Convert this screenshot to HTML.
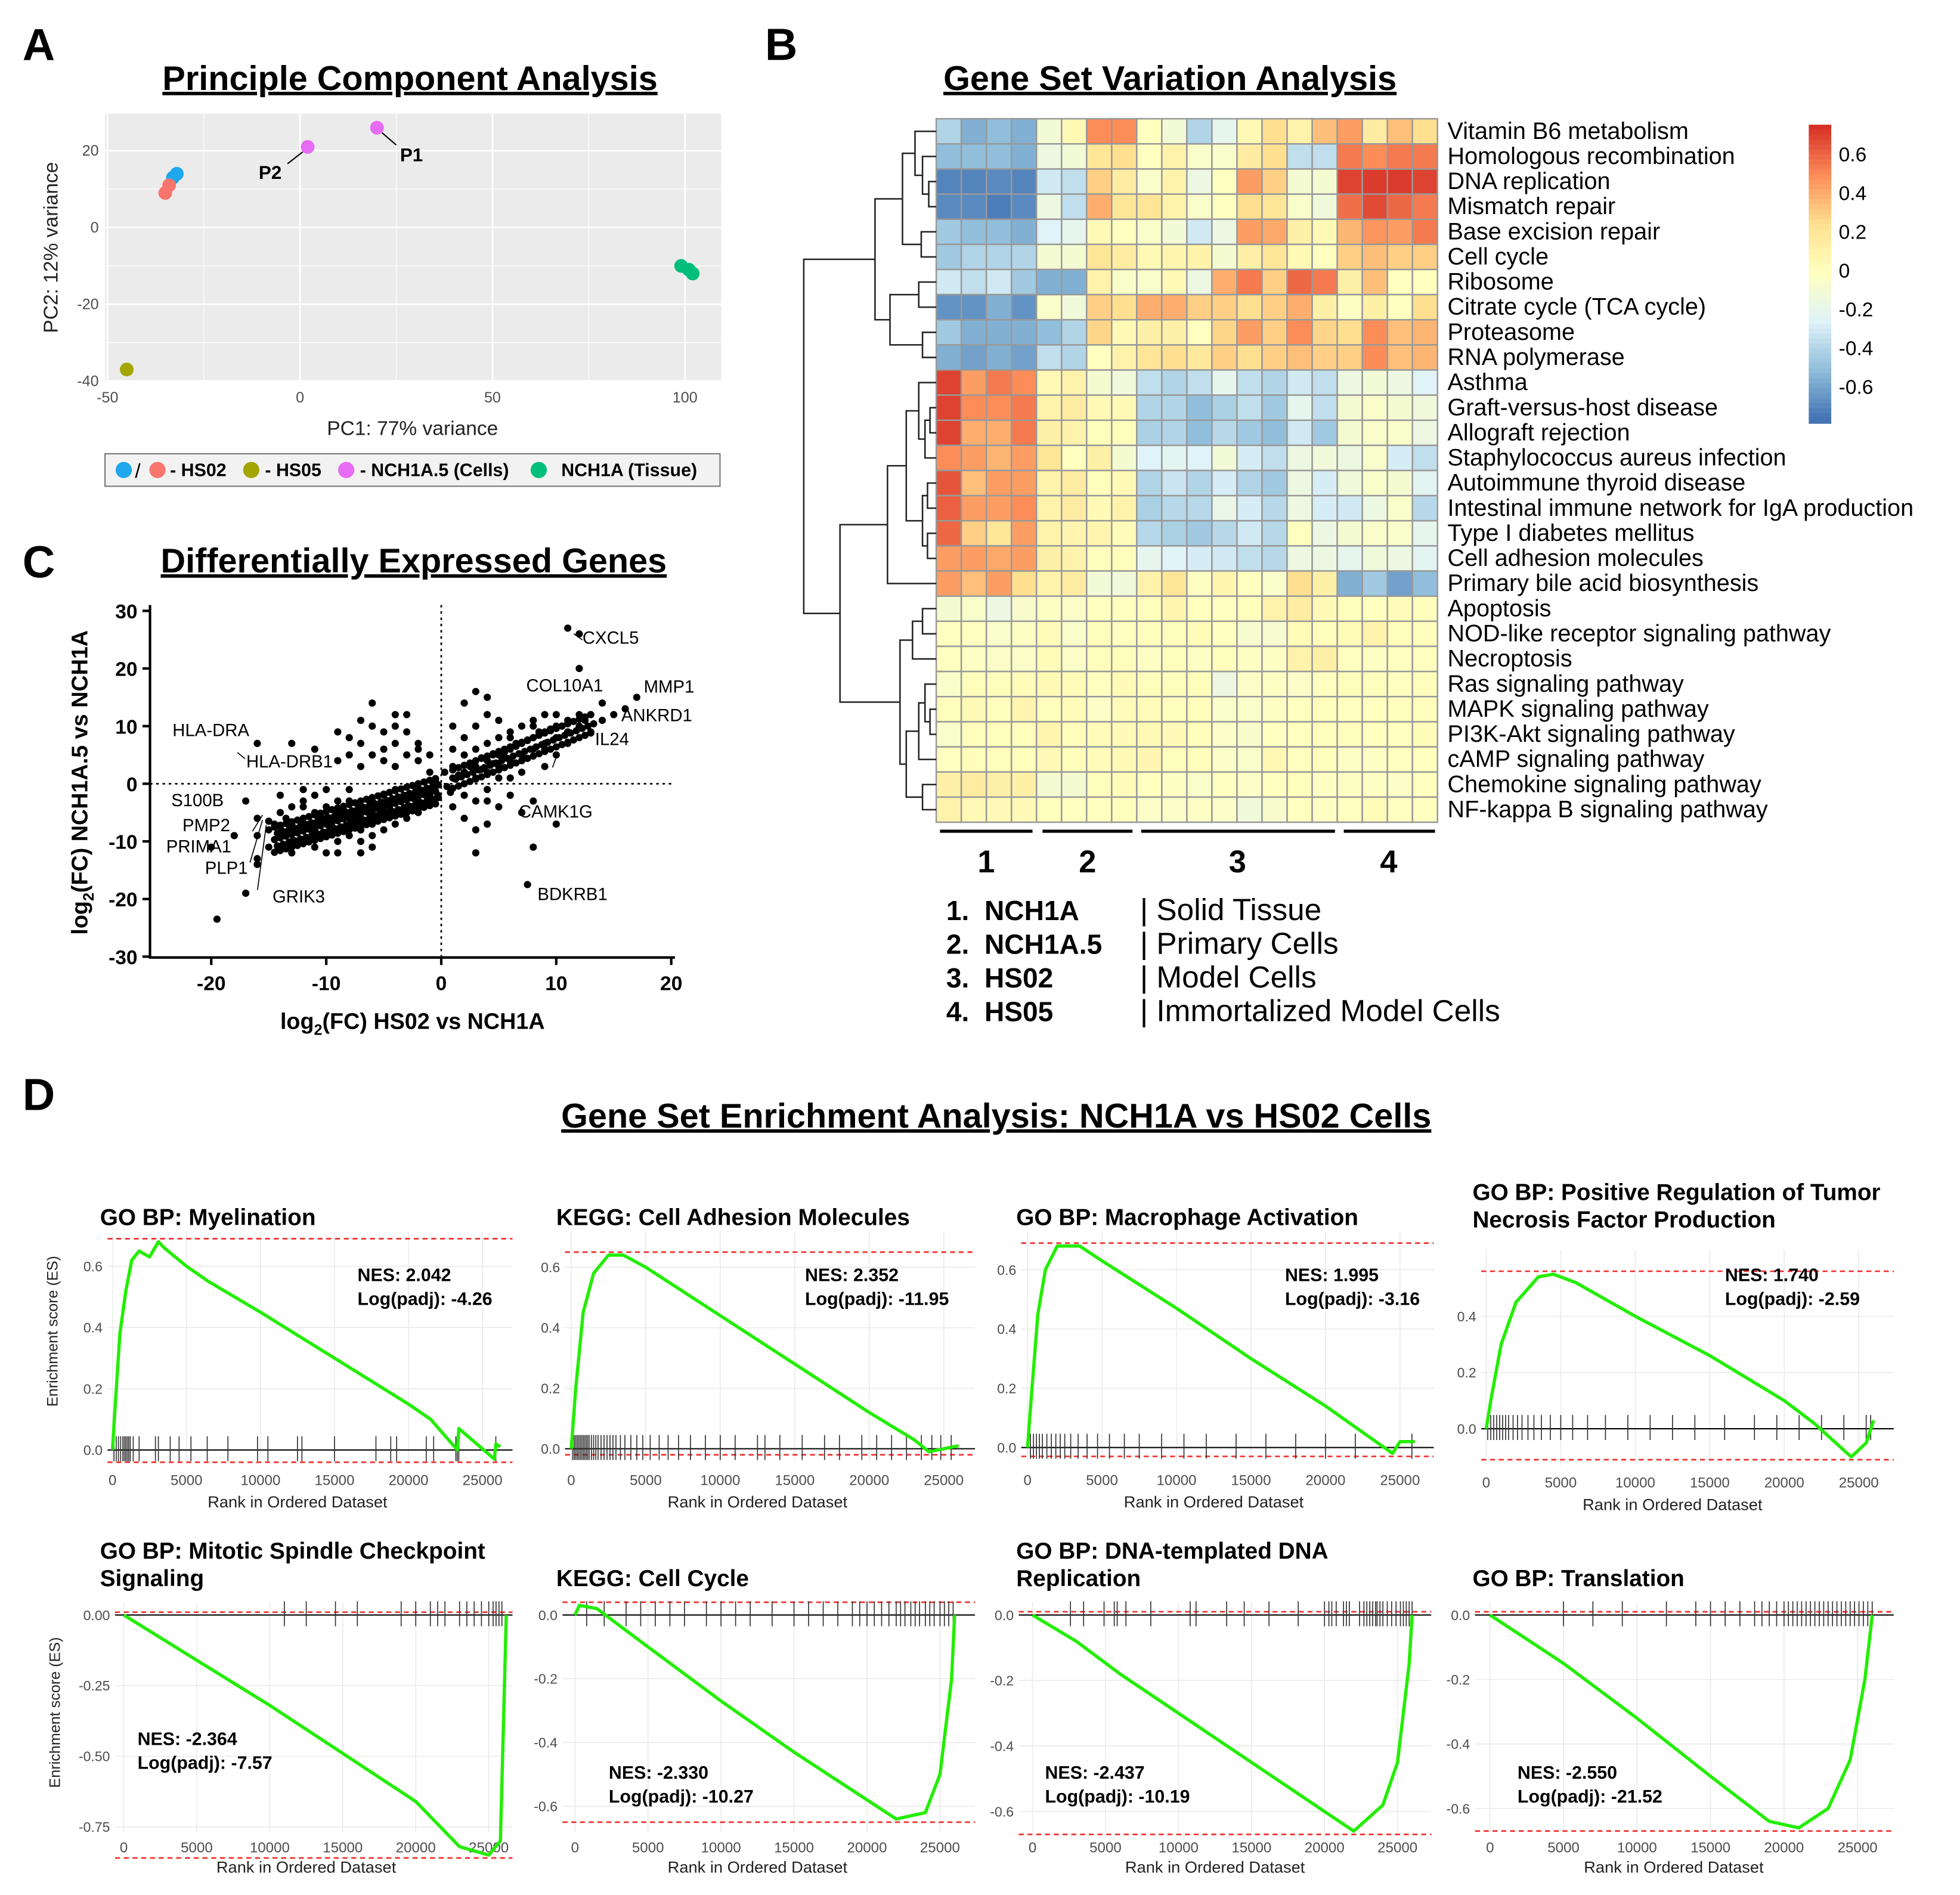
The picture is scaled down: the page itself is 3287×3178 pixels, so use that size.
<!DOCTYPE html>
<html><head><meta charset="utf-8">
<style>
html,body{margin:0;padding:0;background:#fff;}
svg{display:block;font-family:"Liberation Sans",Arial,sans-serif;}
.b{font-weight:bold;}
</style></head>
<body>
<svg id="fig" xmlns="http://www.w3.org/2000/svg" width="3287" height="3178" viewBox="0 0 1568 1516">
<rect x="0" y="0" width="1568" height="1516" fill="#fff"/>
<text x="18" y="48" font-size="36" class="b">A</text>
<text x="612" y="48" font-size="36" class="b">B</text>
<text x="18" y="462" font-size="36" class="b">C</text>
<text x="18" y="888" font-size="36" class="b">D</text>
<text x="328" y="72" font-size="27.5" class="b" text-anchor="middle" text-decoration="underline">Principle Component Analysis</text>
<text x="936" y="72" font-size="27.5" class="b" text-anchor="middle" text-decoration="underline">Gene Set Variation Analysis</text>
<text x="331" y="458" font-size="27.5" class="b" text-anchor="middle" text-decoration="underline">Differentially Expressed Genes</text>
<text x="797" y="902" font-size="27.5" class="b" text-anchor="middle" text-decoration="underline">Gene Set Enrichment Analysis: NCH1A vs HS02 Cells</text>

<g id="pca"></g>
<g id="heat"></g>
<g id="deg"></g>
<g id="gsea"></g>

<text x="330" y="348" font-size="16" text-anchor="middle" fill="#222">PC1: 77% variance</text>
<text transform="translate(46,198) rotate(-90)" font-size="16" text-anchor="middle" fill="#222">PC2: 12% variance</text>
<g>
<rect x="84" y="363" width="492" height="26" fill="#f2f2f2" stroke="#777" stroke-width="1"/>
<circle cx="99" cy="376" r="6.5" fill="#1ea7ec"/>
<text x="108" y="382" font-size="16">/</text>
<circle cx="126" cy="376" r="6.5" fill="#f8766d"/>
<text x="136" y="381" font-size="14.5" class="b">- HS02</text>
<circle cx="201" cy="376" r="6.5" fill="#a3a500"/>
<text x="212" y="381" font-size="14.5" class="b">- HS05</text>
<circle cx="277" cy="376" r="6.5" fill="#e76bf3"/>
<text x="288" y="381" font-size="14.5" class="b">- NCH1A.5 (Cells)</text>
<circle cx="431" cy="376" r="6.5" fill="#00bf7d"/>
<text x="449" y="381" font-size="14.5" class="b">NCH1A (Tissue)</text>
</g>

<g>
<line x1="752" y1="665" x2="826" y2="665" stroke="#000" stroke-width="2.5"/>
<line x1="834" y1="665" x2="906" y2="665" stroke="#000" stroke-width="2.5"/>
<line x1="913" y1="665" x2="1068" y2="665" stroke="#000" stroke-width="2.5"/>
<line x1="1075" y1="665" x2="1148" y2="665" stroke="#000" stroke-width="2.5"/>
<text x="789" y="698" font-size="25" class="b" text-anchor="middle">1</text>
<text x="870" y="698" font-size="25" class="b" text-anchor="middle">2</text>
<text x="990" y="698" font-size="25" class="b" text-anchor="middle">3</text>
<text x="1111" y="698" font-size="25" class="b" text-anchor="middle">4</text>
</g>
<g font-size="22">
<text x="757" y="736" class="b">1.&#160;&#160;NCH1A</text>
<text x="912" y="736" font-size="24.5">| Solid Tissue</text>
<text x="757" y="763" class="b">2.&#160;&#160;NCH1A.5</text>
<text x="912" y="763" font-size="24.5">| Primary Cells</text>
<text x="757" y="790" class="b">3.&#160;&#160;HS02</text>
<text x="912" y="790" font-size="24.5">| Model Cells</text>
<text x="757" y="817" class="b">4.&#160;&#160;HS05</text>
<text x="912" y="817" font-size="24.5">| Immortalized Model Cells</text>
</g>

<text x="330" y="823" font-size="18" class="b" text-anchor="middle">log<tspan font-size="12" dy="5">2</tspan><tspan dy="-5">(FC) HS02 vs NCH1A</tspan></text>
<text transform="translate(70,626) rotate(-90)" font-size="18" class="b" text-anchor="middle">log<tspan font-size="12" dy="5">2</tspan><tspan dy="-5">(FC) NCH1A.5 vs NCH1A</tspan></text>
<text transform="translate(46,1065) rotate(-90)" font-size="12" text-anchor="middle" fill="#222">Enrichment score (ES)</text>
<text transform="translate(48,1370) rotate(-90)" font-size="12" text-anchor="middle" fill="#222">Enrichment score (ES)</text>
</svg>
<script>
var NS='http://www.w3.org/2000/svg';
function mk(tag,attrs,parent){var e=document.createElementNS(NS,tag);for(var k in attrs)e.setAttribute(k,attrs[k]);parent.appendChild(e);return e;}

/* ================= PCA ================= */
var pcaX=[-33,-32,-35,-34,-45,20,2,99,101,102];
var pcaY=[13,14,9,11,-37,26,21,-10,-11,-12];
var pcaColor=['#1ea7ec','#1ea7ec','#f8766d','#f8766d','#a3a500','#e76bf3','#e76bf3','#00bf7d','#00bf7d','#00bf7d'];
var pcaXTicks=[-50,0,50,100];
var pcaYTicks=[-40,-20,0,20];
(function(){
var g=document.getElementById('pca');
function px(v){return 240+v*3.08;} function py(v){return 182-v*3.07;}
var bg=mk('rect',{x:84,y:91,width:493,height:214,fill:'#ebebeb'},g);


pcaXTicks.forEach(function(t,i){
 var l=mk('line',{x1:px(t),x2:px(t),y1:91,y2:305,stroke:'#fff','stroke-width':1.3},g);
 
 
 if(i<pcaXTicks.length-1){var m=mk('line',{x1:px(t+25),x2:px(t+25),y1:91,y2:305,stroke:'#fff','stroke-width':0.6},g);
 
 }
 var tx=mk('text',{x:px(t),y:322,'font-size':12,'text-anchor':'middle',fill:'#4d4d4d'},g);tx.textContent=t;
 
 
});
pcaYTicks.forEach(function(t,i){
 var l=mk('line',{x1:84,x2:577,y1:py(t),y2:py(t),stroke:'#fff','stroke-width':1.3},g);
 
 
 var m=mk('line',{x1:84,x2:577,y1:py(t+10),y2:py(t+10),stroke:'#fff','stroke-width':0.6},g);
 
 
 var tx=mk('text',{x:79,y:py(t)+4,'font-size':12,'text-anchor':'end',fill:'#4d4d4d'},g);tx.textContent=t;
 
 
});
pcaX.forEach(function(v,i){
 var c=mk('circle',{cx:px(v),cy:py(pcaY[i]),r:5.5,fill:pcaColor[i]},g);
 
 
});
var l1=mk('line',{x1:px(20)+4,y1:py(26)+4,x2:317,y2:116,stroke:'#000','stroke-width':1},g);


var t1=mk('text',{x:320,y:129,'font-size':15,'font-weight':'bold'},g);t1.textContent='P1';


var l2=mk('line',{x1:px(2)-4,y1:py(21)+4,x2:230,y2:131,stroke:'#000','stroke-width':1},g);


var t2=mk('text',{x:207,y:143,'font-size':15,'font-weight':'bold'},g);t2.textContent='P2';


})();

/* ================= HEATMAP ================= */
var pathways=['Vitamin B6 metabolism','Homologous recombination','DNA replication','Mismatch repair','Base excision repair','Cell cycle','Ribosome','Citrate cycle (TCA cycle)','Proteasome','RNA polymerase','Asthma','Graft-versus-host disease','Allograft rejection','Staphylococcus aureus infection','Autoimmune thyroid disease','Intestinal immune network for IgA production','Type I diabetes mellitus','Cell adhesion molecules','Primary bile acid biosynthesis','Apoptosis','NOD-like receptor signaling pathway','Necroptosis','Ras signaling pathway','MAPK signaling pathway','PI3K-Akt signaling pathway','cAMP signaling pathway','Chemokine signaling pathway','NF-kappa B signaling pathway'];
var gsva=[
[-0.4,-0.55,-0.5,-0.55,-0.1,0.05,0.5,0.5,0.0,-0.1,-0.4,-0.2,0.05,0.25,0.1,0.35,0.45,0.15,0.35,0.25],
[-0.5,-0.5,-0.5,-0.55,-0.15,-0.1,0.2,0.25,0.0,0.1,-0.05,-0.05,0.15,0.25,-0.35,-0.35,0.55,0.5,0.55,0.55],
[-0.7,-0.7,-0.68,-0.7,-0.3,-0.35,0.3,0.15,-0.05,0.1,-0.15,0.0,0.45,0.3,-0.08,-0.08,0.7,0.72,0.72,0.7],
[-0.68,-0.68,-0.72,-0.68,-0.15,-0.35,0.4,0.2,0.2,0.1,-0.05,0.0,0.25,0.2,-0.05,-0.12,0.58,0.68,0.6,0.55],
[-0.45,-0.5,-0.5,-0.55,-0.25,-0.2,0.05,0.0,-0.05,-0.1,-0.3,-0.15,0.45,0.42,0.12,0.05,0.38,0.48,0.45,0.55],
[-0.45,-0.4,-0.4,-0.4,-0.08,-0.08,0.2,0.15,0.05,0.08,0.1,-0.08,0.12,0.2,0.05,0.0,0.3,0.35,0.3,0.3],
[-0.3,-0.35,-0.3,-0.45,-0.55,-0.55,0.1,-0.05,-0.05,0.05,-0.15,0.4,0.55,0.3,0.6,0.55,0.12,0.35,0.0,0.0],
[-0.65,-0.65,-0.55,-0.65,-0.05,-0.12,0.3,0.25,0.4,0.4,0.3,0.3,0.25,0.3,0.4,0.12,-0.02,0.12,0.0,0.25],
[-0.45,-0.55,-0.55,-0.55,-0.5,-0.4,0.28,0.05,0.12,0.12,0.0,0.28,0.45,0.3,0.5,0.28,0.25,0.5,0.35,0.38],
[-0.55,-0.6,-0.55,-0.6,-0.35,-0.4,0.0,0.1,0.2,0.25,0.18,0.3,0.25,0.3,0.35,0.3,0.3,0.5,0.35,0.38],
[0.7,0.45,0.55,0.5,0.05,0.1,-0.08,-0.12,-0.35,-0.4,-0.35,-0.2,-0.35,-0.4,-0.3,-0.35,-0.15,-0.1,-0.15,-0.25],
[0.7,0.5,0.5,0.55,0.1,0.15,0.05,0.05,-0.4,-0.4,-0.5,-0.42,-0.35,-0.45,-0.2,-0.35,-0.08,-0.05,-0.08,-0.12],
[0.7,0.4,0.4,0.55,0.12,0.1,0.02,0.02,-0.42,-0.4,-0.5,-0.38,-0.45,-0.5,-0.3,-0.45,-0.08,-0.05,-0.05,-0.15],
[0.5,0.45,0.38,0.45,0.2,0.0,0.12,-0.08,-0.25,-0.22,-0.25,-0.1,-0.28,-0.35,-0.15,-0.12,-0.15,-0.05,-0.28,-0.35],
[0.65,0.35,0.45,0.45,0.1,0.15,0.02,0.05,-0.4,-0.32,-0.4,-0.28,-0.4,-0.45,-0.15,-0.28,-0.12,-0.05,-0.08,-0.22],
[0.62,0.45,0.45,0.5,0.1,0.15,0.05,0.1,-0.42,-0.38,-0.38,-0.18,-0.28,-0.38,-0.15,-0.28,-0.3,-0.15,-0.05,-0.38],
[0.6,0.3,0.2,0.45,0.1,0.08,0.08,0.03,-0.38,-0.42,-0.45,-0.38,-0.3,-0.38,0.0,-0.15,-0.08,-0.05,-0.05,-0.2],
[0.45,0.45,0.42,0.45,0.12,0.1,0.02,0.02,-0.2,-0.25,-0.28,-0.3,-0.35,-0.38,-0.15,-0.15,-0.2,-0.12,-0.15,-0.22],
[0.45,0.35,0.45,0.25,0.1,0.15,-0.1,-0.12,0.1,0.2,-0.02,0.08,0.0,-0.05,0.25,0.12,-0.55,-0.45,-0.6,-0.5],
[-0.08,-0.05,-0.15,-0.06,-0.02,-0.04,0.0,0.0,0.02,0.08,0.0,0.0,0.02,0.1,0.15,0.04,0.02,0.0,0.03,0.02],
[0.0,0.0,-0.05,-0.02,0.03,-0.05,0.02,0.0,0.02,0.02,0.03,0.0,-0.07,-0.07,0.03,0.02,0.03,0.1,0.02,0.02],
[0.0,-0.02,-0.04,-0.04,0.03,-0.04,0.02,0.02,-0.02,0.02,-0.02,0.02,-0.02,-0.02,0.1,0.12,0.0,-0.02,0.0,0.0],
[-0.05,0.02,0.02,0.03,0.05,0.03,0.0,0.04,0.02,0.02,0.02,-0.15,-0.03,-0.02,-0.04,0.0,0.02,0.02,0.0,0.02],
[0.02,0.05,0.02,0.08,0.02,0.03,-0.03,0.03,0.03,0.02,0.02,-0.05,-0.05,-0.02,0.0,0.02,0.0,0.0,0.02,0.02],
[-0.05,0.02,0.02,0.02,0.08,0.02,0.03,0.04,0.05,0.04,0.02,-0.04,-0.06,0.0,0.0,0.02,0.02,0.0,0.0,0.03],
[0.0,0.02,0.02,0.02,0.04,0.02,0.03,0.05,0.07,0.02,0.02,-0.03,-0.05,0.06,0.0,0.02,-0.03,-0.02,0.0,0.0],
[0.12,0.15,0.12,0.12,-0.08,-0.08,0.02,0.03,0.0,-0.02,-0.05,0.0,-0.03,0.0,0.02,-0.02,-0.02,-0.02,-0.04,0.0],
[0.1,0.05,0.04,0.04,0.02,0.0,0.0,0.02,-0.04,-0.04,-0.02,-0.04,-0.12,-0.06,0.0,-0.02,0.0,0.03,0.0,0.0]];
var colorbarTicks=[0.6,0.4,0.2,0,-0.2,-0.4,-0.6];
var dendro=[643,[700,[722,[732,0,[738,1,[743,2,3]]],[737,4,5]],[712,[735,6,7],[738,8,9]]],[672,[710,[725,[735,10,[740,[744,11,12],13]],[738,[742,14,15],[742,16,17]]],18],[720,[730,[738,19,20],21],[725,[735,[740,22,[744,23,24]],25],[738,26,27]]]]];
(function(){
var g=document.getElementById('heat');
var X0=749,Y0=95,CW=20.05,CH=20.1;
var stops=['#4575B4','#91BFDB','#E0F3F8','#FFFFBF','#FEE090','#FC8D59','#D73027'];
function hex(c){return [parseInt(c.substr(1,2),16),parseInt(c.substr(3,2),16),parseInt(c.substr(5,2),16)];}
function col(v){var t=(v+0.75)/1.5;t=Math.max(0,Math.min(1,t))*(stops.length-1);var i=Math.min(Math.floor(t),stops.length-2),f=t-i;var a=hex(stops[i]),b=hex(stops[i+1]);return 'rgb('+a.map(function(x,k){return Math.round(x+(b[k]-x)*f);}).join(',')+')';}
gsva.forEach(function(row,r){
 row.forEach(function(v,c){
  var e=mk('rect',{x:X0+c*CW,y:Y0+r*CH,width:CW,height:CH,fill:col(v),stroke:'#999','stroke-width':1.2},g);
  
  
 });
 var t=mk('text',{x:1158,y:Y0+r*CH+CH/2+6,'font-size':18.9},g);t.textContent=pathways[r];
 
 
});
function draw(n){
 if(typeof n==='number'){return {x:X0,y:Y0+n*CH+CH/2};}
 var a=draw(n[1]),b=draw(n[2]),x=n[0];
 var p=mk('path',{d:'M'+a.x+' '+a.y+'H'+x+'V'+b.y+'H'+b.x,fill:'none',stroke:'#222','stroke-width':1.2},g);
 
 
 return {x:x,y:(a.y+b.y)/2};
}
draw(dendro);
var cb0=216,cbs=155;
for(var i=0;i<60;i++){var v=0.75-i*(1.54/60);
 var r=mk('rect',{x:1447,y:cb0-v*cbs,width:18,height:1.54/60*cbs+0.6,fill:col(v)},g);
 
 }
colorbarTicks.forEach(function(t){
 var l=mk('text',{x:1471,y:cb0-t*cbs+6,'font-size':16},g);l.textContent=(t===0?'0':t);
 
 
});
})();

/* ================= DEG SCATTER ================= */
var degX=[-16,-15,-14,-14,-13,-13,-12,-12,-12,-11,-11,-11,-10,-10,-10,-9,-9,-9,-9,-8,-8,-8,-8,-7,-7,-7,-7,-6,-6,-6,-6,-5,-5,-5,-5,-4,-4,-4,-4,-3,-3,-3,-2,-2,-2,-1,-1,-1,-15,-13,-10,-17,-18,-16,-12,-14,-9,-7,-6,-11,-10,-8,-13,-15,-12.5,-10.5,-9.5,-8.5,-7.5,-6.5,-5.5,-4.5,-3.5,-2.5,-1.5,-11.5,-10,-9,-8,-7,-6,-5,-13.5,-12,-14,-16,-19.5,-17,-16,-20,
-16,-13,-9,-8,-7,-6,-6,-5,-5,-4,-4,-3,-3,-2,-2,-1,-1,-7,-6,-4,-3,-8,-5,-2,-4,-9,-11,-7,
1,1,2,2,3,3,3,4,4,4,5,5,5,6,6,6,7,7,7,8,8,8,9,9,9,10,10,11,11,12,12,13,14,15,16,2,3,4,5,1,2,3,4,5,6,7,8,1,2,3,4,12,11,12,17,14,13,11,10,9,7,6,5,4,8,7.5,10,4.5,5.5,6.5,7.5,8.5,9.5,3.5,6,8,10,-0.5,0.5,0.3,-0.3,0.8,2,3,4,1,3,-14.5,-11,-8.5,-6,-3,-12,-9.5,-7,-4.5,2.5,4.5,6.5,8.5,10.5,12.5,1.5,3.5,5.5,9,11];
var degY=[-6,-8,-5,-9,-7,-4,-10,-6,-3,-8,-5,-11,-7,-4,-9,-6,-3,-10,-8,-5,-7,-9,-3,-6,-4,-8,-10,-5,-7,-3,-9,-4,-6,-8,-2,-3,-5,-7,-1,-2,-4,-6,-1,-3,-5,-1,-2,-3,-11,-12,-12,-3,-9,-13,-1,-2,-12,-12,-11,-2,-1,-1,-10,-6.5,-8.5,-5.5,-7.5,-4.5,-6.5,-4.5,-5.5,-4,-3,-2,-1.5,-7,-6,-5,-6,-5,-6,-5,-6,-7,-7.5,-9,-23.5,-19,-14,-11,
7,7,9,8,11,14,5,9,6,7,3,5,9,4,7,2,5,7,10,10,12,5,4,6,12,4,6,3,
1,3,2,5,3,6,1,4,7,2,5,8,3,6,9,4,7,10,5,8,6,11,9,7,12,10,8,9,11,10,12,12,11,12,13,8,10,12,11,6,-2,-3,-1,-4,-2,-5,-3,-4,-6,-8,-7,20,27,26,15,14,9,7,5,3,2,1,1,-3,-11,-17.5,-7,3.5,5.5,6.5,7.5,8.5,9.5,4.5,8,10,12,0.5,-0.5,2,-2,-1.5,14,16,15,10,-12,-7,-9,-7.5,-7,-4,-4,-6,-8,-3,3,5,7,9,10,11,1.5,2.5,4.5,6,9];
// dense downregulated band
var negBandX=[-14.5,-14,-13.5,-13,-12.5,-12,-11.5,-11,-10.5,-10,-9.5,-9,-8.5,-8,-7.5,-7,-6.5,-6,-5.5,-5,-4.5,-4,-3.5,-3,-2.5,-2,-1.5,-1,-0.5];
var negBandY1=[-7.5,-7.2,-6.9,-6.6,-6.3,-6,-5.7,-5.4,-5.1,-4.8,-4.5,-4.2,-3.9,-3.6,-3.3,-3,-2.7,-2.4,-2.1,-1.8,-1.5,-1.2,-0.9,-0.6,-0.3,0,0.3,0.6,0.9];
var negBandY2=[-8.6,-8.3,-8,-7.7,-7.4,-7.1,-6.8,-6.5,-6.2,-5.9,-5.6,-5.3,-5,-4.7,-4.4,-4.1,-3.8,-3.5,-3.2,-2.9,-2.6,-2.3,-2,-1.7,-1.4,-1.1,-0.8,-0.5,-0.2];
var negBandY3=[-9.7,-9.4,-9.1,-8.8,-8.5,-8.2,-7.9,-7.6,-7.3,-7,-6.7,-6.4,-6.1,-5.8,-5.5,-5.2,-4.9,-4.6,-4.3,-4,-3.7,-3.4,-3.1,-2.8,-2.5,-2.2,-1.9,-1.6,-1.3];
var negBandY4=[-10.8,-10.5,-10.2,-9.9,-9.6,-9.3,-9,-8.7,-8.4,-8.1,-7.8,-7.5,-7.2,-6.9,-6.6,-6.3,-6,-5.7,-5.4,-5.1,-4.8,-4.5,-4.2,-3.9,-3.6,-3.3,-3,-2.7,-2.4];
var negBandY5=[-11.9,-11.6,-11.3,-11,-10.7,-10.4,-10.1,-9.8,-9.5,-9.2,-8.9,-8.6,-8.3,-8,-7.7,-7.4,-7.1,-6.8,-6.5,-6.2,-5.9,-5.6,-5.3,-5,-4.7,-4.4,-4.1,-3.8,-3.5];
// dense upregulated band
var posBandX=[1,1.5,2,2.5,3,3.5,4,4.5,5,5.5,6,6.5,7,7.5,8,8.5,9,9.5,10,10.5,11,11.5,12,12.5,13];
var posBandY1=[2.4,2.8,3.2,3.6,4,4.4,4.8,5.2,5.6,6,6.4,6.8,7.2,7.6,8,8.4,8.8,9.2,9.6,10,10.4,10.8,11.2,11.6,12];
var posBandY2=[0.8,1.2,1.6,2,2.4,2.8,3.2,3.6,4,4.4,4.8,5.2,5.6,6,6.4,6.8,7.2,7.6,8,8.4,8.8,9.2,9.6,10,10.4];
var posBandY3=[-0.8,-0.4,0,0.4,0.8,1.2,1.6,2,2.4,2.8,3.2,3.6,4,4.4,4.8,5.2,5.6,6,6.4,6.8,7.2,7.6,8,8.4,8.8];
var degLabels=['CXCL5','COL10A1','MMP1','ANKRD1','IL24','HLA-DRA','HLA-DRB1','S100B','PMP2','PRIMA1','PLP1','GRIK3','CAMK1G','BDKRB1'];
var degXTicks=[-20,-10,0,10,20];
var degYTicks=[30,20,10,0,-10,-20,-30];
(function(){
var g=document.getElementById('deg');
function px(v){return 353+v*9.2;} function py(v){return 627-v*4.61;}
var lp=[[466,515],[421,553],[515,554],[497,577],[476,596],[138,589],[197,614],[137,645],[146,665],[133,682],[164,699],[218,722],[415,654],[430,720]];
var zx=mk('line',{x1:px(0),x2:px(0),y1:484,y2:766,stroke:'#000','stroke-width':1.3,'stroke-dasharray':'2,3'},g);


var zy=mk('line',{x1:120,x2:540,y1:py(0),y2:py(0),stroke:'#000','stroke-width':1.3,'stroke-dasharray':'2,3'},g);


function dot(x,y,dx){
 var c=mk('circle',{cx:px(x+dx),cy:py(y),r:2.9,fill:'#000'},g);
 
 
}
degX.forEach(function(v,i){dot(v,degY[i],0);});
[negBandY1,negBandY2,negBandY3,negBandY4,negBandY5].forEach(function(arr,j){
 negBandX.forEach(function(v,i){dot(v,arr[i],(j%2)*0.25);});
});
[posBandY1,posBandY2,posBandY3].forEach(function(arr,j){
 posBandX.forEach(function(v,i){dot(v,arr[i],(j%2)*0.25);});
});
var ax=mk('path',{d:'M120 484V766H540',fill:'none',stroke:'#000','stroke-width':2},g);


degXTicks.forEach(function(t){
 var l=mk('line',{x1:px(t),x2:px(t),y1:766,y2:772,stroke:'#000','stroke-width':2},g);
 
 
 var tx=mk('text',{x:px(t),y:792,'font-size':16,'font-weight':'bold','text-anchor':'middle'},g);tx.textContent=t;
 
 
});
degYTicks.forEach(function(t){
 var l=mk('line',{x1:114,x2:120,y1:py(t),y2:py(t),stroke:'#000','stroke-width':2},g);
 
 
 var tx=mk('text',{x:110,y:py(t)+6,'font-size':16,'font-weight':'bold','text-anchor':'end'},g);tx.textContent=t;
 
 
});
degLabels.forEach(function(s,i){
 var t=mk('text',{x:lp[i][0],y:lp[i][1],'font-size':14},g);t.textContent=s;
 
 
});
var seg=[[190,602,196,607],[210,652,202,665],[210,656,200,690],[213,660,206,712],[459,507,466,512],[442,614,446,603]];
seg.forEach(function(s){var l=mk('line',{x1:s[0],y1:s[1],x2:s[2],y2:s[3],stroke:'#000','stroke-width':0.8},g);
 
 });
})();

/* ================= GSEA ================= */
var gseaTitles=[['GO BP: Myelination'],['KEGG: Cell Adhesion Molecules'],['GO BP: Macrophage Activation'],['GO BP: Positive Regulation of Tumor','Necrosis Factor Production'],['GO BP: Mitotic Spindle Checkpoint','Signaling'],['KEGG: Cell Cycle'],['GO BP: DNA-templated DNA','Replication'],['GO BP: Translation']];
var gseaNES=['2.042','2.352','1.995','1.740','-2.364','-2.330','-2.437','-2.550'];
var gseaPadj=['-4.26','-11.95','-3.16','-2.59','-7.57','-10.27','-10.19','-21.52'];
var esRank=[
[0,200,500,900,1300,1800,2500,3100,3500,5000,6500,10000,15000,20000,21500,23300,23400,25800,25900,26200],
[0,300,800,1500,2500,3500,5000,10000,15000,20000,23000,24000,25000,26000],
[0,300,700,1200,2000,3500,5000,10000,15000,20000,24500,25000,26000],
[0,300,1000,2000,3500,4500,6000,10000,15000,20000,22000,24500,25500,26000],
[0,5000,10000,15000,20000,23000,25000,25800,26000,26200],
[0,300,1500,5000,10000,15000,20000,22000,24000,25000,25800,26000],
[0,3000,6000,10000,15000,20000,22000,24000,25000,25800,26000],
[0,5000,10000,15000,19000,21000,23000,24500,25500,26000]];
var esScore=[
[0,0.16,0.38,0.52,0.62,0.65,0.63,0.68,0.66,0.6,0.55,0.45,0.3,0.15,0.1,0.0,0.07,-0.03,0.02,0.01],
[0,0.2,0.45,0.58,0.64,0.64,0.6,0.44,0.28,0.12,0.03,-0.01,0.0,0.01],
[0,0.2,0.45,0.6,0.68,0.68,0.63,0.47,0.3,0.14,-0.02,0.02,0.02],
[0,0.1,0.3,0.45,0.54,0.55,0.52,0.4,0.26,0.1,0.02,-0.1,-0.05,0.03],
[0,-0.16,-0.32,-0.49,-0.66,-0.82,-0.85,-0.8,-0.4,0],
[0,0.03,0.02,-0.1,-0.27,-0.43,-0.58,-0.64,-0.62,-0.5,-0.2,0],
[0,-0.08,-0.18,-0.3,-0.45,-0.6,-0.66,-0.58,-0.45,-0.15,0],
[0,-0.15,-0.32,-0.5,-0.64,-0.66,-0.6,-0.45,-0.2,0]];
var gseaHits=[
[100,250,400,550,700,800,900,1000,1100,1200,1400,1800,2900,3100,3900,4500,5300,6400,7800,9800,10500,12500,12800,15000,17800,18800,19200,21200,21700,23200,23300,23400,25900],
[100,200,300,400,500,600,700,800,900,1000,1100,1200,1350,1500,1650,1800,2000,2200,2400,2600,2800,3000,3300,3600,4000,4400,4800,5300,5900,6500,7200,8000,9000,10000,11000,12500,13000,14000,15500,17000,18000,19500,20500,21500,22500,23500,24200,24800,25500],
[200,400,600,800,1000,1300,1600,1900,2200,2500,2900,3400,4000,4700,5500,6500,7500,9000,10500,12000,14000,16000,18000,20000,22000,25800],
[100,300,500,700,900,1100,1300,1500,1800,2100,2400,2800,3200,3700,4300,5000,5800,6800,8000,9500,11000,12500,14000,16000,18000,19500,21000,22500,24000,25500,25800],
[11000,12500,14500,16000,19000,20000,21000,21500,22000,23000,23500,24000,24500,25000,25300,25500,25700,25900],
[800,2000,3500,4500,5500,6500,7500,9000,10000,11000,12000,13500,15000,16000,17000,18000,19000,19500,20000,20500,21000,21500,22000,22300,22600,23000,23300,23600,24000,24300,24600,25000,25300,25600,25900],
[2600,3500,4900,5600,5800,6400,8100,10800,11200,13300,14500,16200,18200,20000,20300,20500,20800,21300,21500,21700,22400,22700,22900,23100,23300,23500,23600,23800,24000,24300,24600,24900,25200,25400,25600,25800,26000],
[5000,7000,9000,12000,14000,15000,16000,17000,18000,18500,19000,19500,20000,20300,20600,20900,21200,21500,21800,22100,22400,22700,23000,23300,23600,23900,24200,24500,24800,25100,25400,25700,26000]];
var gseaYTicks=[[0,0.2,0.4,0.6],[0,0.2,0.4,0.6],[0,0.2,0.4,0.6],[0,0.2,0.4],[0,-0.25,-0.5,-0.75],[0,-0.2,-0.4,-0.6],[0,-0.2,-0.4,-0.6],[0,-0.2,-0.4,-0.6]];
var gseaYLabels=[['0.0','0.2','0.4','0.6'],['0.0','0.2','0.4','0.6'],['0.0','0.2','0.4','0.6'],['0.0','0.2','0.4'],['0.00','-0.25','-0.50','-0.75'],['0.0','-0.2','-0.4','-0.6'],['0.0','-0.2','-0.4','-0.6'],['0.0','-0.2','-0.4','-0.6']];
var gseaXTicks=[0,5000,10000,15000,20000,25000];
(function(){
var g=document.getElementById('gsea');
var L=[[86,410,90,386,1160,245,985,1170],[452,780,457,755,1159,242,985,1170],[817,1147,822,1120,1158,237,985,1170],[1185,1515,1189,1487,1143,225,1000,1172],
[92,410,99,391,1292,226,1282,1466],[450,780,460,752,1292,255,1282,1466],[815,1145,826,1118,1292,262,1282,1466],[1180,1515,1192,1486,1292,258,1282,1466]];
var titleX=[80,445,813,1178,80,445,813,1178];
var titleY=[980,980,980,960,1247,1269,1247,1269];
var nesPos=[[286,1025],[644,1025],[1028,1025],[1380,1025],[110,1396],[487,1423],[836,1423],[1214,1423]];
L.forEach(function(o,k){
 function px(r){return o[2]+r*(o[3]-o[2])/25000;}
 function py(v){return o[4]-v*o[5];}
 var top=k<4, es=esScore[k];
 var mx=Math.max.apply(null,es), mn=Math.min.apply(null,es);
 gseaXTicks.forEach(function(t){
  var l=mk('line',{x1:px(t),x2:px(t),y1:o[6],y2:o[7],stroke:'#ebebeb','stroke-width':0.8},g);
  
  
  var tx=mk('text',{x:px(t),y:o[7]+(top?18:16),'font-size':11.5,'text-anchor':'middle',fill:'#4d4d4d'},g);tx.textContent=t;
  
  
 });
 gseaYTicks[k].forEach(function(t,j){
  var l=mk('line',{x1:o[0],x2:o[1],y1:py(t),y2:py(t),stroke:'#ebebeb','stroke-width':0.8},g);
  
  
  var tx=mk('text',{x:o[0]-4,y:py(t)+4,'font-size':11,'text-anchor':'end',fill:'#4d4d4d'},g);tx.textContent=gseaYLabels[k][j];
  
  
 });
 var xt=mk('text',{x:(o[2]+o[3])/2,y:o[7]+(top?36:32),'font-size':13,'text-anchor':'middle',fill:'#222'},g);xt.textContent='Rank in Ordered Dataset';
 
 
 [mx+0.01,mn-0.01].forEach(function(v){
  var d=mk('line',{x1:o[0],x2:o[1],y1:py(v),y2:py(v),stroke:'#f03030','stroke-width':1.3,'stroke-dasharray':'4,3'},g);
  
  
 });
 var z=mk('line',{x1:o[0],x2:o[1],y1:py(0),y2:py(0),stroke:'#000','stroke-width':1},g);
 
 
 gseaHits[k].forEach(function(h){
  var l=mk('line',{x1:px(h),x2:px(h),y1:py(0)-11,y2:py(0)+9,stroke:'#333','stroke-width':0.8},g);
  
  
 });
 var d='';esRank[k].forEach(function(r,i){d+=(i?'L':'M')+px(r).toFixed(1)+' '+py(es[i]).toFixed(1);});
 var p=mk('path',{d:d,fill:'none',stroke:'#22ee00','stroke-width':2.6,'stroke-linejoin':'round'},g);
 
 
 gseaTitles[k].forEach(function(s,j){
  var t=mk('text',{x:titleX[k],y:titleY[k]+j*22,'font-size':18.5,'font-weight':'bold'},g);t.textContent=s;
  
  
 });
 var n1=mk('text',{x:nesPos[k][0],y:nesPos[k][1],'font-size':14.5,'font-weight':'bold'},g);n1.textContent='NES: '+gseaNES[k];
 
 
 var n2=mk('text',{x:nesPos[k][0],y:nesPos[k][1]+19,'font-size':14.5,'font-weight':'bold'},g);n2.textContent='Log(padj): '+gseaPadj[k];
 
 
});
})();
</script>
</body></html>
